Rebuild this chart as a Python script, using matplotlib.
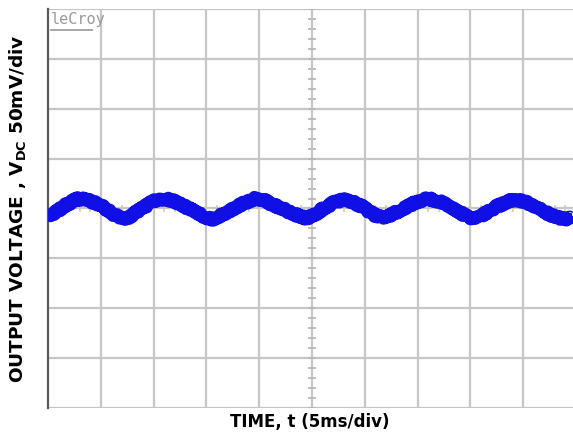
"""Output ripple capture on a 10 x 8 division scope graticule."""

import matplotlib

matplotlib.use("Agg")
import matplotlib.pyplot as plt
import numpy as np

# trace read at 5 ms/div, 50 mV/div (mV relative to the centre line)
time_ms = [
    0.0, 0.7, 1.6, 2.3, 2.84, 3.5, 4.45, 5.3, 6.06, 6.8, 7.29,
    8.2, 9.19, 10.1, 11.08, 12.0, 12.97, 14.2, 15.0, 15.53,
    16.5, 17.42, 18.66, 19.6, 20.4, 21.2, 22.2, 23.1, 24.53,
    25.4, 26.23, 27.1, 27.94, 28.8, 29.73, 30.97, 31.91,
    32.9, 33.81, 35.0, 35.98, 37.1, 38.26, 39.5, 40.44,
    41.4, 42.33, 43.3, 44.22, 45.1, 46.1, 47.7, 48.96, 49.7,
]
ripple_mv = [
    -7, -4, 3, 7, 10, 9, 6, 1, -5, -9, -11,
    -5, 2, 8, 10, 7, 2, -5, -9, -11,
    -6, -1, 6, 10, 9, 4, 0, -5, -10,
    -5, 1, 6, 9, 7, 2, -7, -10,
    -4, 1, 7, 10, 7, 1, -7, -11,
    -5, 1, 6, 9, 7, 2, -7, -11, -9,
]

x_divs = np.arange(0, 51, 5)
y_divs = np.arange(-200, 201, 50)
x_minor = np.arange(0, 50.1, 1)
y_minor = np.arange(-200, 201, 10)


def draw_capture(output_path="out.png"):
    fig = plt.figure(figsize=(5.73, 4.36), dpi=100)
    ax = fig.add_axes([48 / 573, 28 / 436, 528 / 573, 399 / 436])
    ax.set_xlim(0, 50)
    ax.set_ylim(-200, 200)
    ax.set_xticks([])
    ax.set_yticks([])
    for side in ("top", "right", "bottom"):
        ax.spines[side].set_visible(False)
    ax.spines["left"].set_color("#5a5a5a")
    ax.spines["left"].set_linewidth(1.6)

    # graticule
    for x in x_divs[1:]:
        ax.axvline(x, color="#c6c6c6", linewidth=1.6, zorder=1)
    for y in y_divs:
        ax.axhline(y, color="#c6c6c6", linewidth=1.6, zorder=1)

    # minor marks on the centre cross
    ax.hlines(y_minor, 25 - 0.4, 25 + 0.4, color="#b8b8b8", linewidth=1.3, zorder=1)
    ax.vlines(x_minor, -4, 4, color="#d4cba0", linewidth=1.1, zorder=1)

    # trace: solid core plus a wobbly outline for the noise band
    ax.plot(time_ms, ripple_mv, color="#1010e6", linewidth=7.5,
            solid_joinstyle="round", solid_capstyle="butt", zorder=3)
    edge, = ax.plot(time_ms, ripple_mv, color="#1010e6", linewidth=9.0,
                    solid_joinstyle="round", solid_capstyle="butt", zorder=3)
    edge.set_sketch_params(scale=1.6, length=2.5, randomness=6)

    ax.text(0.005, 0.993, "leCroy", transform=ax.transAxes, ha="left", va="top",
            fontsize=11, family="DejaVu Sans Mono", color="#9a9a9a")
    ax.plot([0.006, 0.083], [0.947, 0.947], transform=ax.transAxes,
            color="#a0a0a0", linewidth=1.3)

    fig.text(0.031, 0.522, r"OUTPUT VOLTAGE , V$_{\mathbf{DC}}$ 50mV/div",
             rotation=90, ha="center", va="center", fontsize=13.3, fontweight="bold")
    fig.text(0.541, 0.032, "TIME, t (5ms/div)", ha="center", va="center",
             fontsize=12, fontweight="bold")

    fig.savefig(output_path, dpi=100)
    plt.close(fig)


draw_capture()
